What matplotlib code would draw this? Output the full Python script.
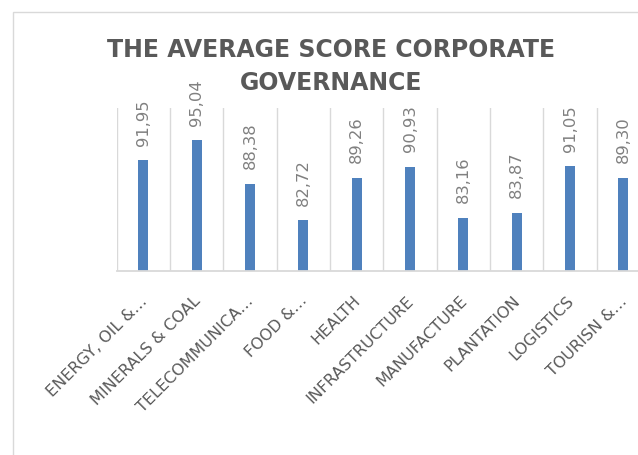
import numpy as np
import matplotlib
matplotlib.use('Agg')
import matplotlib.pyplot as plt
import matplotlib.transforms as mtransforms
from matplotlib.patches import Rectangle

# data
sectors = ['ENERGY, OIL &…', 'MINERALS & COAL', 'TELECOMMUNICA…', 'FOOD &…',
           'HEALTH', 'INFRASTRUCTURE', 'MANUFACTURE', 'PLANTATION',
           'LOGISTICS', 'TOURISN &…']
scores = [91.95, 95.04, 88.38, 82.72, 89.26, 90.93, 83.16, 83.87, 91.05, 89.30]
score_labels = [f'{v:.2f}'.replace('.', ',') for v in scores]

title_lines = ['THE AVERAGE SCORE CORPORATE', 'GOVERNANCE']
ymin, ymax = 75, 100

bar_color = '#4f81bd'
grid_color = '#d9d9d9'
text_dark = '#595959'
text_light = '#808080'

plt.rcParams['font.family'] = ['DejaVu Sans']

fig = plt.figure(figsize=(6.38, 4.55), dpi=100)

# chart-area border (runs off the right and bottom of the picture)
fig.patches.append(Rectangle((12.5 / 638, -0.1), 1.2, 1.1 - 11.7 / 455,
                             transform=fig.transFigure, fill=False,
                             edgecolor=grid_color, lw=1.0))

# plot area also runs past the right edge, as in the original
ax = fig.add_axes([116.7 / 638, (455 - 270.7) / 455, 533.3 / 638, 162.7 / 455])
x = np.arange(len(sectors))
bars = ax.bar(x, scores, width=0.19, color=bar_color, zorder=3)

ax.set_xlim(-0.5, len(sectors) - 0.5)
ax.set_ylim(ymin, ymax)
ax.set_yticks([])

# category boundary gridlines
ax.set_xticks(np.arange(len(sectors) + 1) - 0.5, minor=True)
ax.grid(which='minor', axis='x', color=grid_color, lw=1.0, zorder=0)
ax.tick_params(which='both', length=0)

for side in ['top', 'right', 'left']:
    ax.spines[side].set_visible(False)
ax.spines['bottom'].set_color(grid_color)
ax.spines['bottom'].set_linewidth(1.3)
ax.spines['bottom'].set_zorder(4)

ax.set_xticks(x)
ax.set_xticklabels(sectors, rotation=45, ha='right', va='center',
                   rotation_mode='anchor', fontsize=11.5, color=text_dark)
ax.tick_params(axis='x', which='major', pad=20)
shift = mtransforms.ScaledTranslation(1 / 100, 0, fig.dpi_scale_trans)
for lab in ax.get_xticklabels():
    lab.set_transform(lab.get_transform() + shift)

ax.bar_label(bars, labels=score_labels, rotation=90, padding=10.5,
             fontsize=11.8, color=text_light)

# title, one text per line
for line, base in zip(title_lines, [56.7, 90]):
    fig.text(331 / 638, 1 - base / 455, line, ha='center', va='baseline',
             fontsize=17, fontweight='bold', color=text_dark)

fig.savefig('out.png', dpi=100)
